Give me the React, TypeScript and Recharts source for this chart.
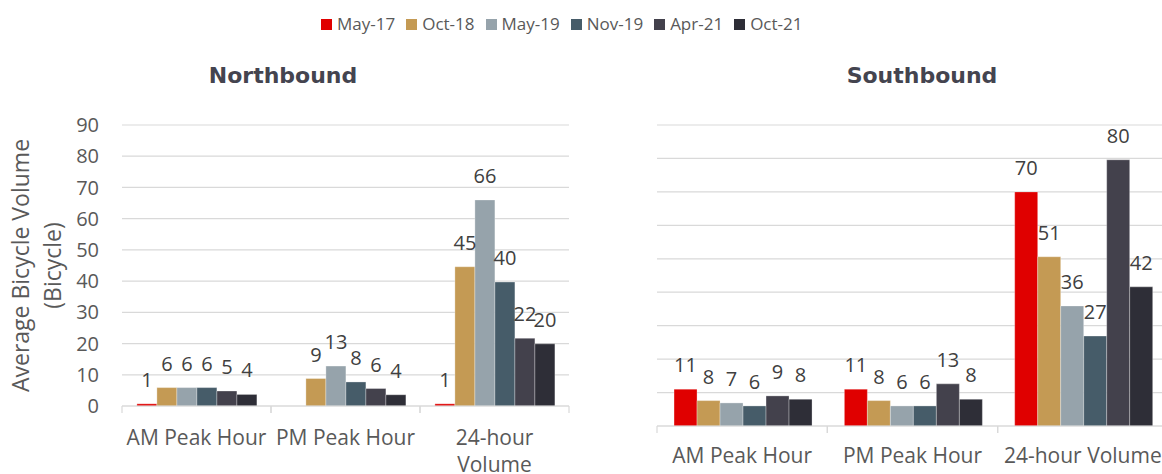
import React from "react";
import { BarChart, Bar, XAxis, YAxis, CartesianGrid, LabelList, Label } from "recharts";

// ---- data ----
const categories = ["AM Peak Hour", "PM Peak Hour", "24-hour Volume"];
const seriesNames = ["May-17", "Oct-18", "May-19", "Nov-19", "Apr-21", "Oct-21"];
const yTicks = [0, 10, 20, 30, 40, 50, 60, 70, 80, 90];

// Northbound (AM, PM, 24-hour)
const nbMay17 = [0.7, 0, 0.7];
const nbOct18 = [5.9, 8.8, 44.6];
const nbMay19 = [5.9, 12.8, 66];
const nbNov19 = [5.9, 7.7, 39.7];
const nbApr21 = [4.8, 5.6, 21.7];
const nbOct21 = [3.7, 3.6, 19.9];

// Southbound (AM, PM, 24-hour)
const sbMay17 = [11, 11, 70];
const sbOct18 = [7.6, 7.6, 50.6];
const sbMay19 = [6.9, 6, 35.9];
const sbNov19 = [6, 6, 26.9];
const sbApr21 = [9, 12.6, 79.6];
const sbOct21 = [8, 8, 41.6];

// ---- styles ----
const colors = ["#e00000", "#c49a54", "#96a3ab", "#465c69", "#43414c", "#2e2e37"];
const FONT = "'Open Sans', sans-serif";
const GRID = "#d9d9d9";
const CAT_FONT_SIZE = 21;

const buildRows = (series: number[][]) =>
  categories.map((c, i) => {
    const row: any = { category: c };
    seriesNames.forEach((s, k) => {
      row[s] = series[k][i];
    });
    return row;
  });

const northRows = buildRows([nbMay17, nbOct18, nbMay19, nbNov19, nbApr21, nbOct21]);
const southRows = buildRows([sbMay17, sbOct18, sbMay19, sbNov19, sbApr21, sbOct21]);

let measureCtx: CanvasRenderingContext2D | null = null;
const measure = (s: string) => {
  if (!measureCtx) {
    const c = document.createElement("canvas");
    measureCtx = c.getContext("2d");
  }
  if (!measureCtx) return s.length * CAT_FONT_SIZE * 0.55;
  measureCtx.font = `${CAT_FONT_SIZE}px 'Open Sans'`;
  return measureCtx.measureText(s).width;
};

const wrapLines = (label: string, maxW: number) => {
  const words = label.split(" ");
  const lines: string[] = [];
  let cur = "";
  words.forEach((w) => {
    const next = cur ? cur + " " + w : w;
    if (cur && measure(next) > maxW) {
      lines.push(cur);
      cur = w;
    } else {
      cur = next;
    }
  });
  if (cur) lines.push(cur);
  return lines;
};

const makeTick = (band: number, dy: number) => (props: any) => {
  const { x, y, payload } = props;
  const lines = wrapLines(String(payload.value), band);
  return (
    <g>
      <line x1={x - band / 2} x2={x - band / 2} y1={y} y2={y + 7} stroke={GRID} strokeWidth={1.2} />
      <line x1={x + band / 2} x2={x + band / 2} y1={y} y2={y + 7} stroke={GRID} strokeWidth={1.2} />
      <text
        x={x}
        y={y + dy}
        textAnchor="middle"
        fontSize={CAT_FONT_SIZE}
        fontFamily={FONT}
        fill="#595959"
      >
        {lines.map((ln, i) => (
          <tspan key={i} x={x} dy={i === 0 ? 0 : 27}>
            {ln}
          </tspan>
        ))}
      </text>
    </g>
  );
};

const YLabel = (props: any) => {
  const vb = props.viewBox || { x: 0, y: 0, width: 0, height: 0 };
  const cy = vb.y + vb.height / 2;
  return (
    <g>
      <text
        x={vb.x + 20}
        y={cy}
        transform={`rotate(-90, ${vb.x + 20}, ${cy})`}
        textAnchor="middle"
        dominantBaseline="central"
        fontSize={23}
        fontFamily={FONT}
        fill="#595959"
      >
        Average Bicycle Volume
      </text>
      <text
        x={vb.x + 52}
        y={cy}
        transform={`rotate(-90, ${vb.x + 52}, ${cy})`}
        textAnchor="middle"
        dominantBaseline="central"
        fontSize={23}
        fontFamily={FONT}
        fill="#595959"
      >
        (Bicycle)
      </text>
    </g>
  );
};

const renderBars = () =>
  seriesNames.map((s, k) => (
    <Bar key={s} dataKey={s} fill={colors[k]} stroke="#ffffff" strokeOpacity={0.5} strokeWidth={0.6} isAnimationActive={false}>
      <LabelList
        dataKey={s}
        position="top"
        offset={17}
        formatter={(v: any) => Math.round(Number(v))}
        fill="#404040"
        fontSize={20}
        fontFamily={FONT}
      />
    </Bar>
  ));

const titleStyle: React.CSSProperties = {
  position: "absolute",
  top: 65,
  fontFamily: "'DejaVu Sans', sans-serif",
  fontWeight: 700,
  fontSize: 22,
  lineHeight: "22px",
  color: "#44444f",
  textAlign: "center",
  width: 300,
};

const EmptyTick = () => <g />;

export default function App() {
  const leftW = 600;
  const leftMargin = { top: 125, right: 31, bottom: 0, left: 0 };
  const leftYW = 122;
  const leftBand = (leftW - leftMargin.right - leftYW) / categories.length;

  const rightW = 580;
  const rightMargin = { top: 125, right: 12, bottom: 0, left: 0 };
  const rightYW = 57;
  const rightBand = (rightW - rightMargin.right - rightYW) / categories.length;

  return (
    <div
      style={{
        position: "absolute",
        left: 0,
        top: 0,
        width: 1162,
        height: 474,
        overflow: "hidden",
        background: "#ffffff",
        fontFamily: FONT,
      }}
    >
      {/* legend */}
      <div
        style={{
          position: "absolute",
          top: 15,
          left: 321,
          display: "flex",
          gap: 11,
          fontSize: 17,
          lineHeight: "17px",
          color: "#595959",
          whiteSpace: "nowrap",
        }}
      >
        {seriesNames.map((s, k) => (
          <div key={s} style={{ display: "flex", alignItems: "center" }}>
            <span
              style={{
                display: "inline-block",
                width: 11,
                height: 11,
                background: colors[k],
                marginRight: 5,
                position: "relative",
                top: 1,
              }}
            />
            <span>{s}</span>
          </div>
        ))}
      </div>

      <div style={{ ...titleStyle, left: 283 - 150 }}>Northbound</div>
      <div style={{ ...titleStyle, left: 922 - 150 }}>Southbound</div>

      <div style={{ position: "absolute", left: 0, top: 0 }}>
        <BarChart
          width={leftW}
          height={474}
          data={northRows}
          margin={leftMargin}
          barCategoryGap="10%"
          barGap={0}
        >
          <CartesianGrid vertical={false} stroke={GRID} strokeWidth={1.2} />
          <XAxis
            dataKey="category"
            height={68}
            interval={0}
            axisLine={{ stroke: GRID, strokeWidth: 1.2 }}
            tickLine={false}
            tickSize={0}
            tickMargin={0}
            tick={makeTick(leftBand, 39)}
          />
          <YAxis
            width={leftYW}
            domain={[0, 90]}
            ticks={yTicks}
            interval={0}
            axisLine={false}
            tickLine={false}
            tickSize={0}
            tickMargin={23}
            tick={{ fill: "#595959", fontSize: 20, fontFamily: FONT }}
          >
            <Label content={<YLabel />} />
          </YAxis>
          {renderBars()}
        </BarChart>
      </div>

      <div style={{ position: "absolute", left: 600, top: 0 }}>
        <BarChart
          width={rightW}
          height={474}
          data={southRows}
          margin={rightMargin}
          barCategoryGap="10%"
          barGap={0}
        >
          <CartesianGrid vertical={false} stroke={GRID} strokeWidth={1.2} />
          <XAxis
            dataKey="category"
            height={48}
            interval={0}
            axisLine={{ stroke: GRID, strokeWidth: 1.2 }}
            tickLine={false}
            tickSize={0}
            tickMargin={0}
            tick={makeTick(rightBand, 37)}
          />
          <YAxis
            width={rightYW}
            domain={[0, 90]}
            ticks={yTicks}
            interval={0}
            axisLine={false}
            tickLine={false}
            tick={EmptyTick}
          />
          {renderBars()}
        </BarChart>
      </div>
    </div>
  );
}
